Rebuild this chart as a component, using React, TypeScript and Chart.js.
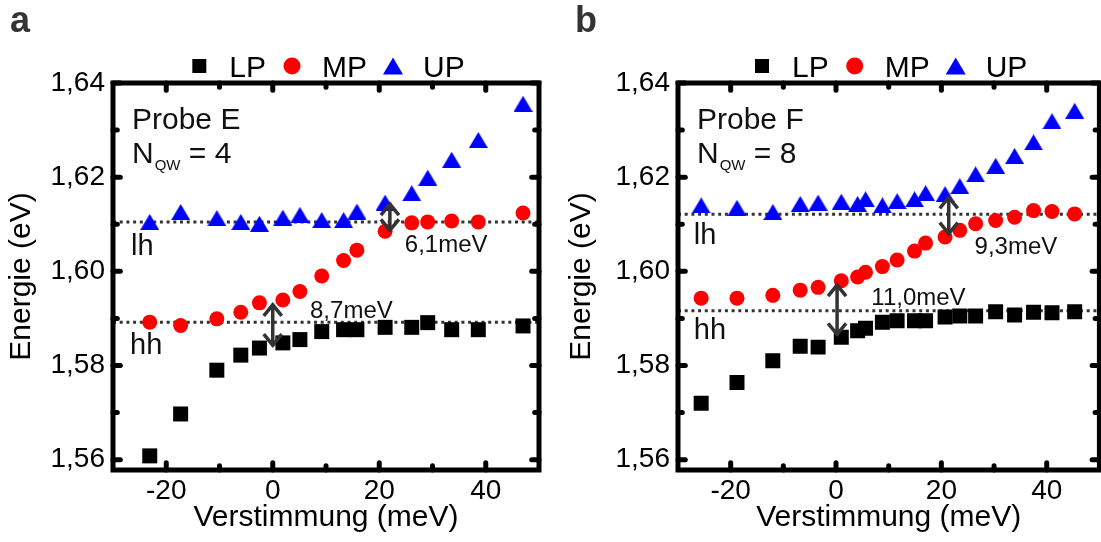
import React, { useEffect, useRef } from 'react';
import { Chart, registerables } from 'chart.js';

Chart.register(...registerables);

// ---------- axis ticks ----------
const xTicks = [-20, 0, 20, 40];
const xMinorTicks = [-10, 10, 30];
const yTicks = [1.56, 1.58, 1.6, 1.62, 1.64];
const yMinorTicks = [1.57, 1.59, 1.61, 1.63];

// ---------- panel a : Probe E ----------
const detuningE = [-23.1, -17.3, -10.5, -6.0, -2.5, 1.9, 5.1, 9.2, 13.3, 15.8, 21.1, 26.1, 29.1, 33.6, 38.6, 47.0];
const lpE = [1.5608, 1.5697, 1.579, 1.5822, 1.5837, 1.5848, 1.5855, 1.5872, 1.5876, 1.5876, 1.5881, 1.5881, 1.5891, 1.5876, 1.5876, 1.5884];
const mpE = [1.5892, 1.5885, 1.5899, 1.5913, 1.5933, 1.5939, 1.5957, 1.599, 1.6023, 1.6045, 1.6085, 1.6103, 1.6105, 1.6107, 1.6105, 1.6124];
const upE = [1.6105, 1.6126, 1.6113, 1.6105, 1.6101, 1.6114, 1.612, 1.6109, 1.6109, 1.6127, 1.6146, 1.6166, 1.6199, 1.6237, 1.6279, 1.6356];
const lhE = 1.6105;
const hhE = 1.5892;

// ---------- panel b : Probe F ----------
const detuningF = [-25.6, -18.8, -12.0, -6.8, -3.4, 1.0, 4.1, 5.6, 8.8, 11.6, 14.9, 17.0, 20.7, 23.5, 26.5, 30.3, 33.9, 37.5, 41.0, 45.3];
const lpF = [1.572, 1.5764, 1.581, 1.5841, 1.5839, 1.586, 1.5874, 1.5879, 1.5892, 1.5895, 1.5895, 1.5895, 1.5903, 1.5905, 1.5905, 1.5914, 1.5907, 1.5913, 1.5912, 1.5914];
const mpF = [1.5943, 1.5943, 1.5949, 1.596, 1.5966, 1.598, 1.5988, 1.5998, 1.601, 1.6024, 1.6043, 1.606, 1.6073, 1.6087, 1.6101, 1.6108, 1.6115, 1.6129, 1.6127, 1.6122];
const upF = [1.614, 1.6135, 1.6126, 1.6143, 1.6146, 1.6148, 1.6143, 1.6153, 1.614, 1.6149, 1.6153, 1.6166, 1.6164, 1.6181, 1.6206, 1.6224, 1.6245, 1.6274, 1.6319, 1.6341];
const lhF = 1.6121;
const hhF = 1.5916;

// ---------- splitting annotations (data units) ----------
const splitsE = [
  { x: 22.0, from: 1.6145, to: 1.6085, label: '6,1meV', lx: 24.8, ly: 1.604 },
  { x: 0.0, from: 1.5931, to: 1.5841, label: '8,7meV', lx: 7.0, ly: 1.5901 },
];
const splitsF = [
  { x: 21.4, from: 1.6159, to: 1.6078, label: '9,3meV', lx: 26.3, ly: 1.6036 },
  { x: 0.2, from: 1.5973, to: 1.5864, label: '11,0meV', lx: 6.7, ly: 1.5928 },
];

const FONT = "'Liberation Sans', Arial, Helvetica, sans-serif";
const RED = '#ff0000';
const BLUE = '#0000ff';
const DARK = '#333333';

function makeTriangle(w: number, h: number, color: string) {
  const c = document.createElement('canvas');
  c.width = w;
  c.height = h;
  const g = c.getContext('2d')!;
  g.fillStyle = color;
  g.beginPath();
  g.moveTo(w / 2, 0);
  g.lineTo(w, h);
  g.lineTo(0, h);
  g.closePath();
  g.fill();
  return c;
}

type Split = { x: number; from: number; to: number; label: string; lx: number; ly: number };
type Panel = {
  letter: string;
  probe: string;
  nqw: string;
  detuning: number[];
  lp: number[];
  mp: number[];
  up: number[];
  lh: number;
  hh: number;
  splits: Split[];
  lhLabel: { x: number; y: number };
  hhLabel: { x: number; y: number };
  canvasLeft: number;
  canvasWidth: number;
  axisWidth: number;
  padRight: number;
  letterX: number;
};

const panels: Panel[] = [
  {
    letter: 'a', probe: 'Probe E', nqw: '4',
    detuning: detuningE, lp: lpE, mp: mpE, up: upE, lh: lhE, hh: hhE, splits: splitsE,
    lhLabel: { x: -26.6, y: 1.6034 }, hhLabel: { x: -26.8, y: 1.5825 },
    canvasLeft: 0, canvasWidth: 560, axisWidth: 113, padRight: 21, letterX: 10,
  },
  {
    letter: 'b', probe: 'Probe F', nqw: '8',
    detuning: detuningF, lp: lpF, mp: mpF, up: upF, lh: lhF, hh: hhF, splits: splitsF,
    lhLabel: { x: -27.0, y: 1.6057 }, hhLabel: { x: -27.0, y: 1.5857 },
    canvasLeft: 560, canvasWidth: 550, axisWidth: 118, padRight: 6, letterX: 15,
  },
];

function drawArrow(ctx: CanvasRenderingContext2D, x: number, y1: number, y2: number) {
  const hw = 9;
  const hl = 12;
  ctx.save();
  ctx.strokeStyle = DARK;
  ctx.lineWidth = 3.5;
  ctx.lineCap = 'butt';
  ctx.lineJoin = 'miter';
  ctx.beginPath();
  ctx.moveTo(x, y1);
  ctx.lineTo(x, y2);
  ctx.stroke();
  const dir = y2 > y1 ? 1 : -1;
  ctx.beginPath();
  ctx.moveTo(x - hw, y1 + dir * hl);
  ctx.lineTo(x, y1 + dir * 1);
  ctx.lineTo(x + hw, y1 + dir * hl);
  ctx.stroke();
  ctx.beginPath();
  ctx.moveTo(x - hw, y2 - dir * hl);
  ctx.lineTo(x, y2 - dir * 1);
  ctx.lineTo(x + hw, y2 - dir * hl);
  ctx.stroke();
  ctx.restore();
}

function overlayPlugin(p: Panel) {
  return {
    id: 'overlay_' + p.letter,
    afterDatasetsDraw(chart: any) {
      const ctx: CanvasRenderingContext2D = chart.ctx;
      const ca = chart.chartArea;
      const xs = chart.scales.x;
      const ys = chart.scales.y;
      ctx.save();

      // splitting arrows + labels
      ctx.fillStyle = '#111';
      ctx.font = `24px ${FONT}`;
      ctx.textAlign = 'left';
      ctx.textBaseline = 'alphabetic';
      for (const s of p.splits) {
        drawArrow(ctx, xs.getPixelForValue(s.x), ys.getPixelForValue(s.from), ys.getPixelForValue(s.to));
        ctx.fillText(s.label, xs.getPixelForValue(s.lx), ys.getPixelForValue(s.ly));
      }

      // lh / hh labels
      ctx.font = `29px ${FONT}`;
      ctx.fillText('lh', xs.getPixelForValue(p.lhLabel.x), ys.getPixelForValue(p.lhLabel.y));
      ctx.fillText('hh', xs.getPixelForValue(p.hhLabel.x), ys.getPixelForValue(p.hhLabel.y));

      // sample text
      const tx = ca.left + 19;
      ctx.font = `30px ${FONT}`;
      ctx.fillText(p.probe, tx, ca.top + 46);
      ctx.fillText('N', tx, ca.top + 80);
      const nW = ctx.measureText('N').width;
      ctx.font = `15px ${FONT}`;
      ctx.fillText('QW', tx + nW + 1, ca.top + 87);
      const qW = ctx.measureText('QW').width;
      ctx.font = `30px ${FONT}`;
      ctx.fillText(' = ' + p.nqw, tx + nW + 1 + qW, ca.top + 80);

      // frame with inward ticks on all sides
      ctx.strokeStyle = '#000';
      ctx.lineWidth = 5;
      ctx.lineCap = 'round';
      const tick = (x1: number, y1: number, x2: number, y2: number) => {
        ctx.beginPath();
        ctx.moveTo(x1, y1);
        ctx.lineTo(x2, y2);
        ctx.stroke();
      };
      for (const v of xTicks) {
        const px = xs.getPixelForValue(v);
        tick(px, ca.bottom, px, ca.bottom - 7.3);
        tick(px, ca.top, px, ca.top + 7.3);
      }
      for (const v of xMinorTicks) {
        const px = xs.getPixelForValue(v);
        tick(px, ca.bottom, px, ca.bottom - 4.3);
        tick(px, ca.top, px, ca.top + 4.3);
      }
      for (const v of yTicks) {
        const py = ys.getPixelForValue(v);
        tick(ca.left, py, ca.left + 7.3, py);
        tick(ca.right, py, ca.right - 7.3, py);
      }
      for (const v of yMinorTicks) {
        const py = ys.getPixelForValue(v);
        tick(ca.left, py, ca.left + 4.3, py);
        tick(ca.right, py, ca.right - 4.3, py);
      }
      ctx.lineCap = 'square';
      ctx.lineJoin = 'miter';
      ctx.strokeRect(ca.left, ca.top, ca.right - ca.left, ca.bottom - ca.top);

      // panel letter
      ctx.fillStyle = DARK;
      ctx.font = `bold 36px ${FONT}`;
      ctx.fillText(p.letter, p.letterX, 32);

      // legend
      ctx.fillStyle = '#000';
      ctx.font = `30px ${FONT}`;
      const items = [
        { label: 'LP', shape: 'square', color: '#000' },
        { label: 'MP', shape: 'circle', color: RED },
        { label: 'UP', shape: 'triangle', color: BLUE },
      ];
      const layout: { mc: number; ts: number }[] = [];
      let pos = 0;
      for (const it of items) {
        const w = ctx.measureText(it.label).width;
        layout.push({ mc: pos, ts: pos + 30 });
        pos = pos + 30 + w + 26;
      }
      const totalStart = -8;
      const totalEnd = pos - 26;
      const cx = (ca.left + ca.right) / 2 + 2;
      const off = cx - (totalStart + totalEnd) / 2;
      const my = 66;
      items.forEach((it, i) => {
        const mc = layout[i].mc + off;
        ctx.fillStyle = it.color;
        if (it.shape === 'square') {
          ctx.fillRect(mc - 7, my - 7, 14, 14);
        } else if (it.shape === 'circle') {
          ctx.beginPath();
          ctx.arc(mc, my, 8.5, 0, Math.PI * 2);
          ctx.fill();
        } else {
          ctx.beginPath();
          ctx.moveTo(mc, my - 8.5);
          ctx.lineTo(mc + 10, my + 8.5);
          ctx.lineTo(mc - 10, my + 8.5);
          ctx.closePath();
          ctx.fill();
        }
        ctx.fillStyle = '#000';
        ctx.fillText(it.label, layout[i].ts + off, 77);
      });

      ctx.restore();
    },
  };
}

function buildConfig(p: Panel): any {
  const pts = (vals: number[]) => vals.map((v, i) => ({ x: p.detuning[i], y: v }));
  const tri = makeTriangle(19, 16, BLUE);
  const levelLine = (v: number) => ({
    label: 'level',
    data: [{ x: -30, y: v }, { x: 50, y: v }],
    showLine: true,
    borderColor: DARK,
    borderWidth: 3,
    borderDash: [3, 3.7],
    pointRadius: 0,
    order: 10,
  });
  return {
    type: 'scatter',
    data: {
      datasets: [
        levelLine(p.lh),
        levelLine(p.hh),
        { label: 'LP', data: pts(p.lp), pointStyle: 'rect', pointRadius: 10.6, pointBackgroundColor: '#000', pointBorderWidth: 0, order: 3 },
        { label: 'MP', data: pts(p.mp), pointStyle: 'circle', pointRadius: 7.5, pointBackgroundColor: RED, pointBorderWidth: 0, order: 2 },
        { label: 'UP', data: pts(p.up), pointStyle: tri, pointRadius: 8, pointBackgroundColor: BLUE, pointBorderWidth: 0, order: 1 },
      ],
    },
    options: {
      responsive: false,
      animation: false,
      events: [],
      layout: { padding: { left: 0, right: p.padRight, top: 83, bottom: 0 } },
      plugins: { legend: { display: false }, tooltip: { enabled: false } },
      scales: {
        x: {
          type: 'linear',
          min: -30,
          max: 50,
          afterFit: (s: any) => { s.height = 72; },
          afterBuildTicks: (s: any) => { s.ticks = xTicks.map((v) => ({ value: v })); },
          grid: { display: false, drawTicks: false },
          border: { display: false },
          ticks: { color: '#000', padding: 4, maxRotation: 0, font: { family: FONT, size: 28 }, callback: (v: any) => String(v) },
          title: { display: true, text: 'Verstimmung (meV)', color: '#000', font: { family: FONT, size: 30 }, padding: { top: 0, bottom: 6 } },
        },
        y: {
          type: 'linear',
          min: 1.5578,
          max: 1.64,
          afterFit: (s: any) => { s.width = p.axisWidth; },
          afterBuildTicks: (s: any) => { s.ticks = yTicks.map((v) => ({ value: v })); },
          grid: { display: false, drawTicks: false },
          border: { display: false },
          ticks: { color: '#000', padding: 8, font: { family: FONT, size: 28 }, callback: (v: any) => Number(v).toFixed(2).replace('.', ',') },
          title: { display: true, text: 'Energie (eV)', color: '#000', font: { family: FONT, size: 30 }, padding: { top: 4, bottom: 0 } },
        },
      },
    },
    plugins: [overlayPlugin(p)],
  };
}

function PanelChart({ p }: { p: Panel }) {
  const ref = useRef<HTMLCanvasElement>(null);
  useEffect(() => {
    if (!ref.current) return;
    const chart = new Chart(ref.current, buildConfig(p));
    return () => chart.destroy();
  }, [p]);
  return (
    <canvas
      ref={ref}
      width={p.canvasWidth}
      height={542}
      style={{ position: 'absolute', left: p.canvasLeft, top: 0, width: p.canvasWidth, height: 542 }}
    />
  );
}

export default function App() {
  useEffect(() => {
    document.body.style.margin = '0';
    document.body.style.overflow = 'hidden';
  }, []);
  return (
    <div style={{ position: 'absolute', left: 0, top: 0, width: 1101, height: 542, overflow: 'hidden', background: '#fff' }}>
      {panels.map((p) => (
        <PanelChart key={p.letter} p={p} />
      ))}
    </div>
  );
}
